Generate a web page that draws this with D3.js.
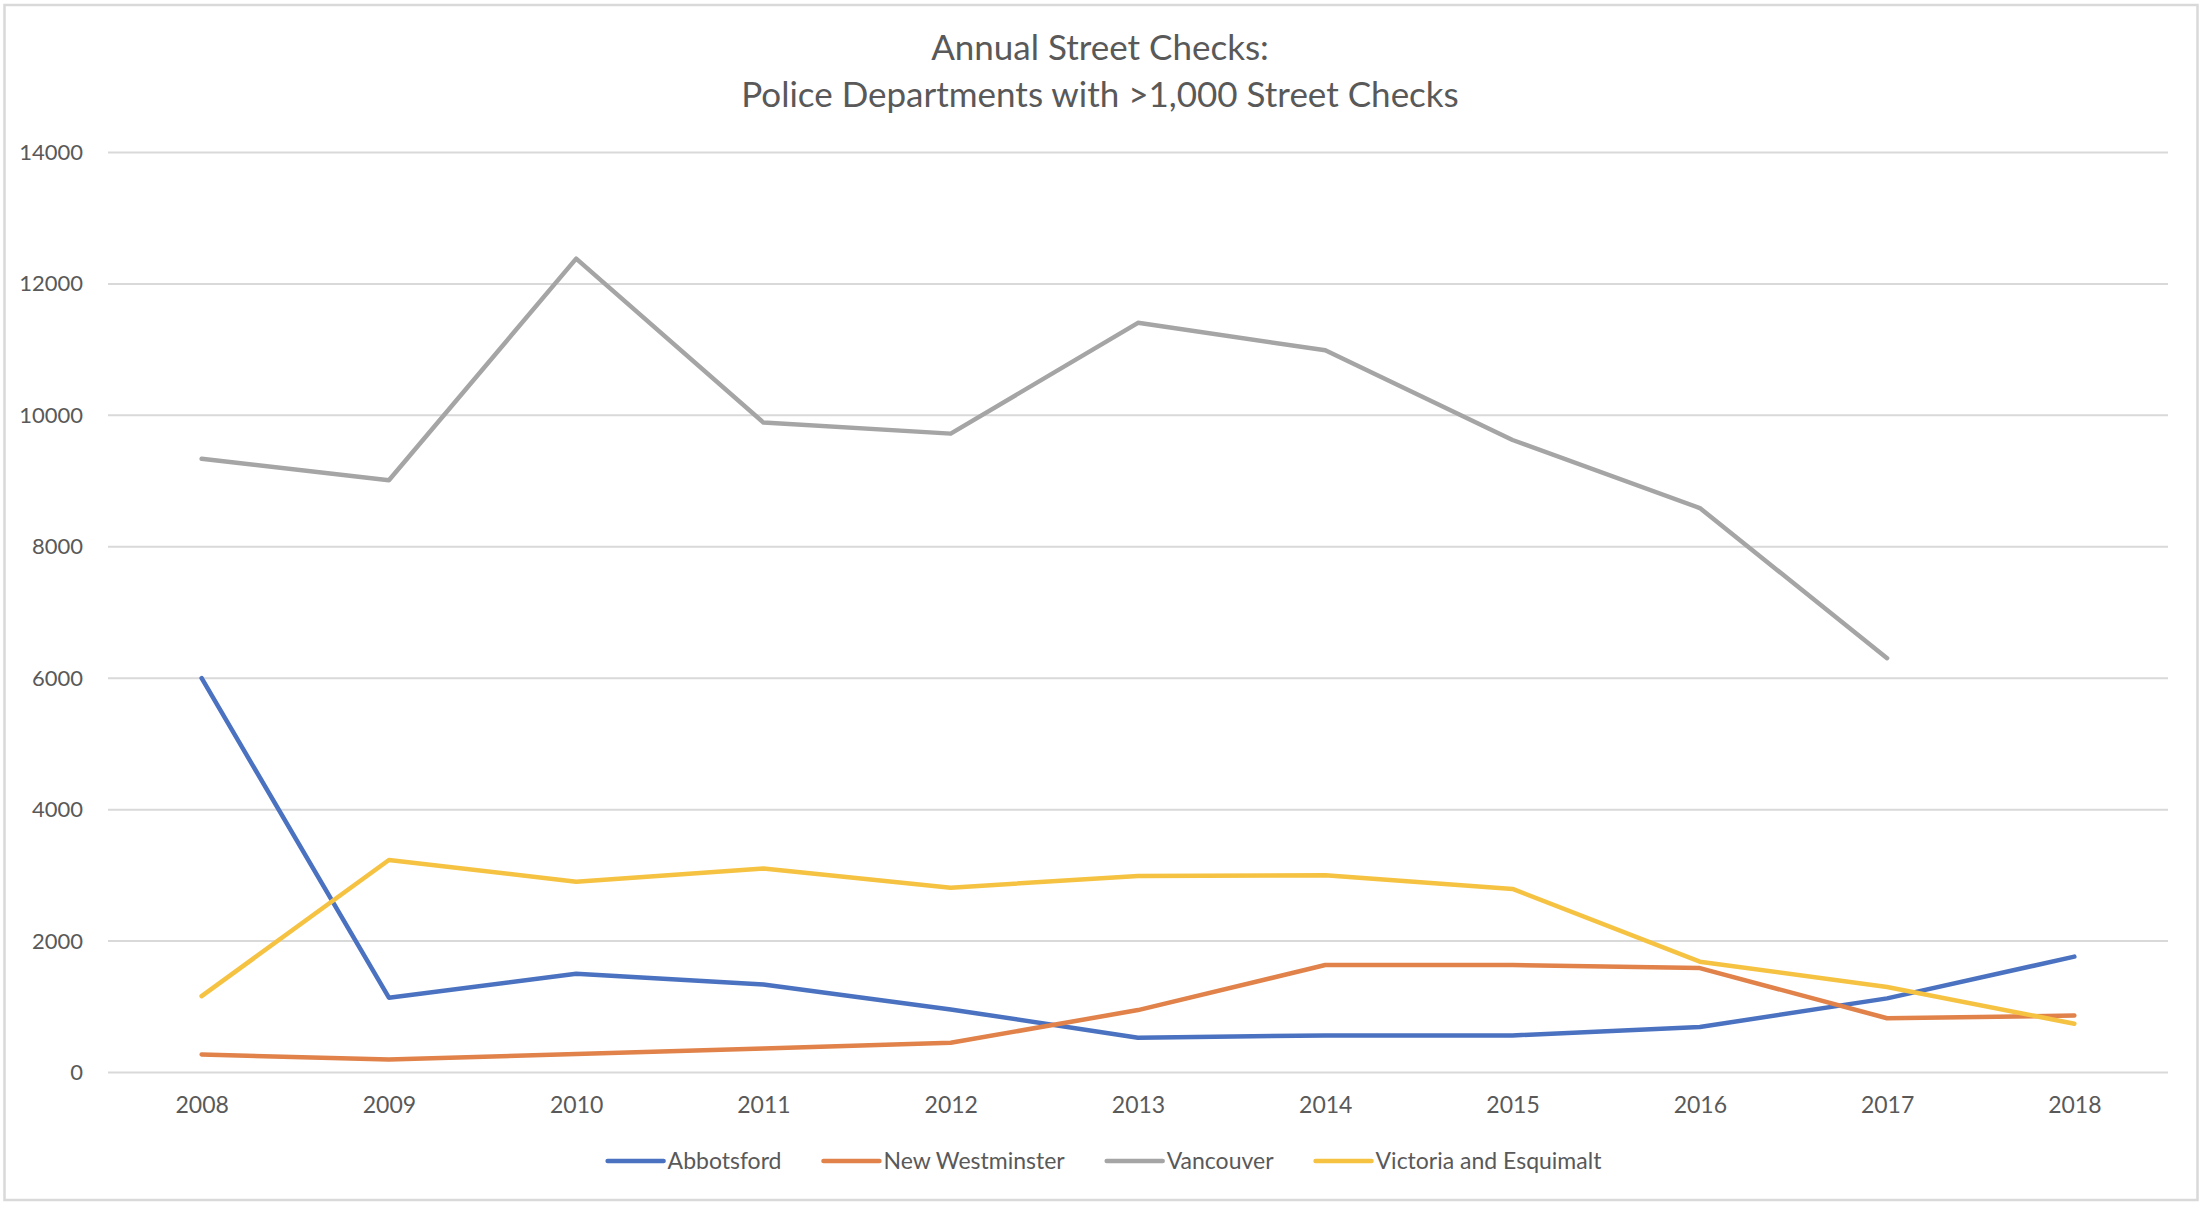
<!DOCTYPE html>
<html>
<head>
<meta charset="utf-8">
<script src="https://cdn.jsdelivr.net/npm/d3@7"></script>
<style>
  html, body { margin: 0; padding: 0; background: #fff; }
  svg { display: block; }
  text { font-family: Lato, "Open Sans", sans-serif; fill: #595959; }
</style>
</head>
<body>
<svg id="chart" width="2206" height="1206"></svg>
<script>
const years = ["2008","2009","2010","2011","2012","2013","2014","2015","2016","2017","2018"];
const abbotsford = [6000, 1138, 1503, 1340, 960, 530, 564, 564, 692, 1128, 1763];
const newWestminster = [274, 198, 280, 367, 452, 950, 1635, 1635, 1589, 825, 866];
const vancouver = [9340, 9013, 12385, 9890, 9722, 11408, 10990, 9625, 8590, 6305, null];
const victoriaEsquimalt = [1162, 3234, 2904, 3103, 2813, 2990, 3000, 2794, 1686, 1302, 743];
const seriesNames = ["Abbotsford", "New Westminster", "Vancouver", "Victoria and Esquimalt"];
const seriesColors = ["#4A72C0", "#E0824A", "#A5A5A5", "#F5C242"];
const yTicks = [0, 2000, 4000, 6000, 8000, 10000, 12000, 14000];
const titleLines = ["Annual Street Checks:", "Police Departments with >1,000 Street Checks"];

const seriesValues = [abbotsford, newWestminster, vancouver, victoriaEsquimalt];

const svg = d3.select("#chart");

// outer border
svg.append("rect")
  .attr("x", 4.5).attr("y", 5).attr("width", 2193).attr("height", 1195)
  .attr("fill", "#fff").attr("stroke", "#D9D9D9").attr("stroke-width", 2.5);

const plotLeft = 108, plotRight = 2168, plotTop = 152.5, plotBottom = 1072.5;

const x = d3.scalePoint().domain(years).range([plotLeft, plotRight]).padding(0.5);
const y = d3.scaleLinear().domain([0, 14000]).range([plotBottom, plotTop]);

// gridlines
svg.append("g").selectAll("line").data(yTicks).join("line")
  .attr("x1", plotLeft).attr("x2", plotRight)
  .attr("y1", d => y(d)).attr("y2", d => y(d))
  .attr("stroke", "#D9D9D9").attr("stroke-width", 2);

// y axis labels
const yAxis = d3.axisLeft(y).tickValues(yTicks).tickSize(0).tickPadding(0).tickFormat(d3.format("d"));
const yg = svg.append("g").attr("transform", "translate(83,0)").call(yAxis);
yg.select(".domain").remove();
yg.selectAll("text").attr("font-size", 22).style("fill", "#595959").attr("font-family", "Lato");

// x axis labels
const xAxis = d3.axisBottom(x).tickSize(0).tickPadding(0);
const xg = svg.append("g").attr("transform", "translate(0,1097)").call(xAxis);
xg.select(".domain").remove();
xg.selectAll("text").attr("font-size", 23).style("fill", "#595959").attr("font-family", "Lato");

// lines
const line = d3.line()
  .defined(d => d.v !== null)
  .x(d => x(d.year)).y(d => y(d.v));

seriesValues.forEach((vals, i) => {
  const data = years.map((yr, j) => ({year: yr, v: vals[j]}));
  svg.append("path").datum(data)
    .attr("d", line)
    .attr("fill", "none")
    .attr("stroke", seriesColors[i])
    .attr("stroke-width", 4.5)
    .attr("stroke-linejoin", "round")
    .attr("stroke-linecap", "round");
});

// title
svg.append("g").selectAll("text").data(titleLines).join("text")
  .attr("x", 1100)
  .attr("y", (d, i) => 60 + i * 47)
  .attr("text-anchor", "middle")
  .attr("font-size", 35)
  .style("fill", "#595959")
  .text(d => d);

// legend
const legend = svg.append("g");
const items = legend.selectAll("g").data(seriesNames).join("g");
items.append("line")
  .attr("x1", 0).attr("x2", 56).attr("y1", 0).attr("y2", 0)
  .attr("stroke", (d, i) => seriesColors[i]).attr("stroke-width", 4.5)
  .attr("stroke-linecap", "round");
items.append("text")
  .attr("x", 60).attr("y", 0).attr("dy", "0.35em")
  .attr("font-size", 23)
  .style("fill", "#595959")
  .text(d => d);
let cx = 0;
const offsets = [];
items.each(function() {
  offsets.push(cx);
  const tw = d3.select(this).select("text").node().getComputedTextLength();
  cx += 60 + tw + 42;
});
const totalW = cx - 42;
const lx0 = 1104.5 - totalW / 2;
items.attr("transform", (d, i) => `translate(${lx0 + offsets[i]},1161)`);
</script>
</body>
</html>
